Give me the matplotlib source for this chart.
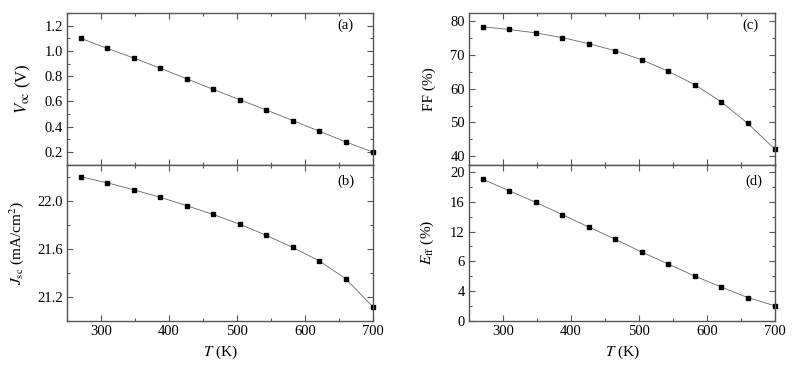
import numpy as np
import matplotlib
matplotlib.use("Agg")
import matplotlib.pyplot as plt
from matplotlib.ticker import MultipleLocator, FixedLocator, FixedFormatter

plt.rcParams['font.family'] = ['Liberation Serif', 'DejaVu Serif']
plt.rcParams['mathtext.fontset'] = 'stix'
plt.rcParams['font.size'] = 10.5

T = [270, 309, 348, 387, 426, 465, 504, 543, 582, 621, 660, 700]
Voc = [1.10, 1.02, 0.944, 0.863, 0.779, 0.695, 0.613, 0.532, 0.448, 0.364, 0.279, 0.198]
Jsc = [22.199, 22.148, 22.090, 22.028, 21.958, 21.885, 21.804, 21.712, 21.611, 21.499, 21.351, 21.116]
FF = [78.4, 77.6, 76.6, 75.2, 73.4, 71.3, 68.6, 65.2, 61.2, 56.1, 49.7, 42.0]
Eff = [19.03, 17.48, 15.93, 14.29, 12.61, 10.97, 9.25, 7.65, 6.02, 4.56, 3.14, 2.04]

# tick labels of panel (d) as printed in the original
eff_ticks = [0, 4, 8, 12, 16, 20]
eff_ticklabels = ['0', '4', '6', '12', '16', '20']

fig = plt.figure(figsize=(7.98, 3.66), dpi=100)
W, H = 798.0, 366.0

def make_ax(x0, x1, y0, y1):
    return fig.add_axes([x0 / W, 1 - y1 / H, (x1 - x0) / W, (y1 - y0) / H])

ax_a = make_ax(67, 373, 13, 164.5)
ax_b = make_ax(67, 373, 164.5, 321)
ax_c = make_ax(469, 775, 13, 164.5)
ax_d = make_ax(469, 775, 164.5, 321)

spine_col = '#555555'
for ax in [ax_a, ax_b, ax_c, ax_d]:
    ax.set_xlim(250, 700)
    ax.xaxis.set_major_locator(MultipleLocator(100))
    ax.xaxis.set_minor_locator(MultipleLocator(50))
    ax.tick_params(which='both', direction='in', top=True, right=True,
                   color=spine_col, width=0.8, labelsize=10.5, pad=3)
    ax.tick_params(which='major', length=4)
    ax.tick_params(which='minor', length=2.5)
    for s in ax.spines.values():
        s.set_color(spine_col)
        s.set_linewidth(1.0)

def draw(ax, y):
    ax.plot(T, y, '-', color='#666666', lw=0.6)
    ax.plot(T, y, 's', color='black', ms=3.5, mec='black', clip_on=False)

draw(ax_a, Voc)
ax_a.set_ylim(0.1, 1.3)
ax_a.yaxis.set_major_locator(MultipleLocator(0.2))
ax_a.yaxis.set_minor_locator(MultipleLocator(0.1))
ax_a.yaxis.set_major_formatter(matplotlib.ticker.FormatStrFormatter('%.1f'))
ax_a.set_ylabel(r'$V_{\rm oc}$ (V)', fontsize=12, labelpad=8)
ax_a.tick_params(labelbottom=False)
ax_a.text(0.91, 0.92, '(a)', transform=ax_a.transAxes, ha='center', va='center')

draw(ax_b, Jsc)
ax_b.set_ylim(21.0, 22.3)
ax_b.yaxis.set_major_locator(MultipleLocator(0.4))
ax_b.yaxis.set_minor_locator(MultipleLocator(0.2))
ax_b.yaxis.set_major_formatter(matplotlib.ticker.FormatStrFormatter('%.1f'))
ax_b.set_ylabel(r'$J_{\rm sc}$ (mA/cm$^2$)', fontsize=11, labelpad=8)
ax_b.set_xlabel(r'$T$ (K)', fontsize=11, labelpad=4)
ax_b.text(0.91, 0.89, '(b)', transform=ax_b.transAxes, ha='center', va='center')

draw(ax_c, FF)
ax_c.set_ylim(37.5, 82.5)
ax_c.yaxis.set_major_locator(MultipleLocator(10))
ax_c.yaxis.set_minor_locator(MultipleLocator(5))
ax_c.set_ylabel('FF (%)', fontsize=11, labelpad=10)
ax_c.tick_params(labelbottom=False)
ax_c.text(0.92, 0.92, '(c)', transform=ax_c.transAxes, ha='center', va='center')

draw(ax_d, Eff)
ax_d.set_ylim(0, 21)
ax_d.yaxis.set_major_locator(FixedLocator(eff_ticks))
ax_d.yaxis.set_major_formatter(FixedFormatter(eff_ticklabels))
ax_d.yaxis.set_minor_locator(MultipleLocator(2))
ax_d.set_ylabel(r'$E_{\rm ff}$ (%)', fontsize=11, labelpad=10)
ax_d.set_xlabel(r'$T$ (K)', fontsize=11, labelpad=4)
ax_d.text(0.93, 0.89, '(d)', transform=ax_d.transAxes, ha='center', va='center')

fig.savefig('out.png', dpi=100)
